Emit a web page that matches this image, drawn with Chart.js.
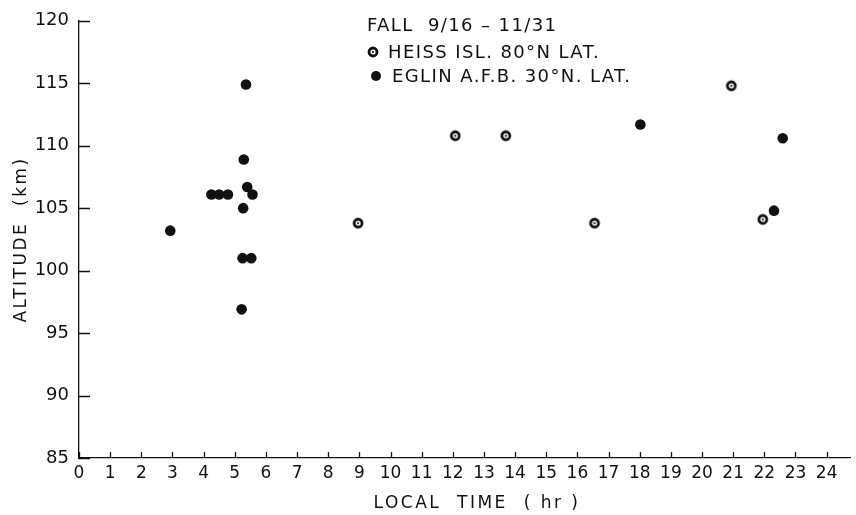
<!DOCTYPE html>
<html>
<head>
<meta charset="utf-8">
<script src="https://cdn.jsdelivr.net/npm/chart.js@4/dist/chart.umd.min.js"></script>
<style>
  html, body { margin: 0; padding: 0; background: #fff; }
  #wrap { width: 856px; height: 515px; }
</style>
</head>
<body>
<div id="wrap"><canvas id="chart"></canvas></div>
<script>
// data
const eglinTime = [2.93, 4.25, 4.5, 4.78, 5.22, 5.25, 5.27, 5.29, 5.36, 5.4, 5.53, 5.57, 18.02, 22.31, 22.59];
const eglinAlt = [103.2, 106.1, 106.1, 106.1, 96.9, 101.0, 105.0, 108.9, 114.9, 106.7, 101.0, 106.1, 111.7, 104.8, 110.6];
const heissTime = [8.96, 12.08, 13.7, 16.55, 20.94, 21.95];
const heissAlt = [103.8, 110.8, 110.8, 103.8, 114.8, 104.1];
const xTicks = [0, 1, 2, 3, 4, 5, 6, 7, 8, 9, 10, 11, 12, 13, 14, 15, 16, 17, 18, 19, 20, 21, 22, 23, 24];
const yTicks = [85, 90, 95, 100, 105, 110, 115, 120];
const legendTitle = 'FALL  9/16 – 11/31';
const seriesLabels = ['HEISS ISL. 80°N LAT.', 'EGLIN A.F.B. 30°N. LAT.'];
const xTitle = 'LOCAL  TIME  ( hr )';
const yTitle = 'ALTITUDE  (km)';

const ink = '#111';
const font = '"DejaVu Sans", sans-serif';

// ring with a dot in the middle for the Heiss Island points
function ringMarker() {
  const c = document.createElement('canvas');
  c.width = 14;
  c.height = 14;
  const ctx = c.getContext('2d');
  ctx.strokeStyle = ink;
  ctx.lineWidth = 2.8;
  ctx.beginPath();
  ctx.arc(7, 7, 4, 0, Math.PI * 2);
  ctx.stroke();
  ctx.fillStyle = ink;
  ctx.beginPath();
  ctx.arc(7, 7, 1.1, 0, Math.PI * 2);
  ctx.fill();
  return c;
}
const ring = ringMarker();

const toPoints = (xs, ys) => xs.map((x, i) => ({x: x, y: ys[i]}));

// inward tick marks, axis titles and the legend block
const decorPlugin = {
  id: 'decor',
  afterDraw: (chart) => {
    const ctx = chart.ctx;
    const xs = chart.scales.x;
    const ys = chart.scales.y;
    const area = chart.chartArea;
    ctx.save();
    ctx.strokeStyle = ink;
    ctx.lineWidth = 1.3;
    ctx.beginPath();
    xTicks.forEach((v) => {
      const px = Math.round(xs.getPixelForValue(v)) + 0.5;
      ctx.moveTo(px, area.bottom);
      ctx.lineTo(px, area.bottom - 6);
    });
    yTicks.forEach((v) => {
      const py = Math.round(ys.getPixelForValue(v)) + 0.5;
      ctx.moveTo(area.left, py);
      ctx.lineTo(area.left + 11, py);
    });
    ctx.stroke();

    ctx.fillStyle = ink;
    ctx.font = '17px ' + font;
    ctx.textBaseline = 'middle';
    ctx.letterSpacing = '2.5px';
    ctx.textAlign = 'center';
    ctx.fillText(xTitle, 477, 504);

    ctx.save();
    ctx.translate(22, (area.top + area.bottom) / 2);
    ctx.rotate(-Math.PI / 2);
    ctx.fillText(yTitle, 0, 0);
    ctx.restore();

    // legend
    ctx.font = '18px ' + font;
    ctx.textAlign = 'left';
    ctx.letterSpacing = '1.4px';
    ctx.fillText(legendTitle, 367, 26);
    ctx.drawImage(ring, 366, 45);
    ctx.fillText(seriesLabels[0], 388, 53);
    ctx.beginPath();
    ctx.arc(376, 76, 5, 0, Math.PI * 2);
    ctx.fill();
    ctx.fillText(seriesLabels[1], 392, 77);
    ctx.restore();
  }
};

new Chart(document.getElementById('chart'), {
  type: 'scatter',
  data: {
    datasets: [
      {
        label: seriesLabels[0],
        data: toPoints(heissTime, heissAlt),
        pointStyle: ring,
        pointRadius: 5
      },
      {
        label: seriesLabels[1],
        data: toPoints(eglinTime, eglinAlt),
        pointStyle: 'circle',
        pointRadius: 5.3,
        backgroundColor: ink,
        borderColor: ink,
        borderWidth: 0
      }
    ]
  },
  options: {
    responsive: true,
    maintainAspectRatio: false,
    animation: false,
    layout: {
      padding: {top: 17, right: 0, left: 0, bottom: 0}
    },
    plugins: {
      legend: {display: false},
      tooltip: {enabled: false}
    },
    scales: {
      x: {
        type: 'linear',
        min: 0,
        max: 24.75,
        afterFit: (scale) => { scale.height = 57; },
        afterBuildTicks: (scale) => { scale.ticks = xTicks.map((v) => ({value: v})); },
        grid: {display: false, drawTicks: false},
        border: {display: true, color: ink, width: 1.3},
        ticks: {
          padding: 5,
          color: ink,
          font: {family: font, size: 17},
          maxRotation: 0,
          autoSkip: false
        }
      },
      y: {
        min: 85,
        max: 120,
        afterFit: (scale) => { scale.width = 79; },
        afterBuildTicks: (scale) => { scale.ticks = yTicks.map((v) => ({value: v})); },
        grid: {display: false, drawTicks: false},
        border: {display: true, color: ink, width: 1.3},
        ticks: {
          padding: 10,
          color: ink,
          font: {family: font, size: 18}
        }
      }
    }
  },
  plugins: [decorPlugin]
});
</script>
</body>
</html>
